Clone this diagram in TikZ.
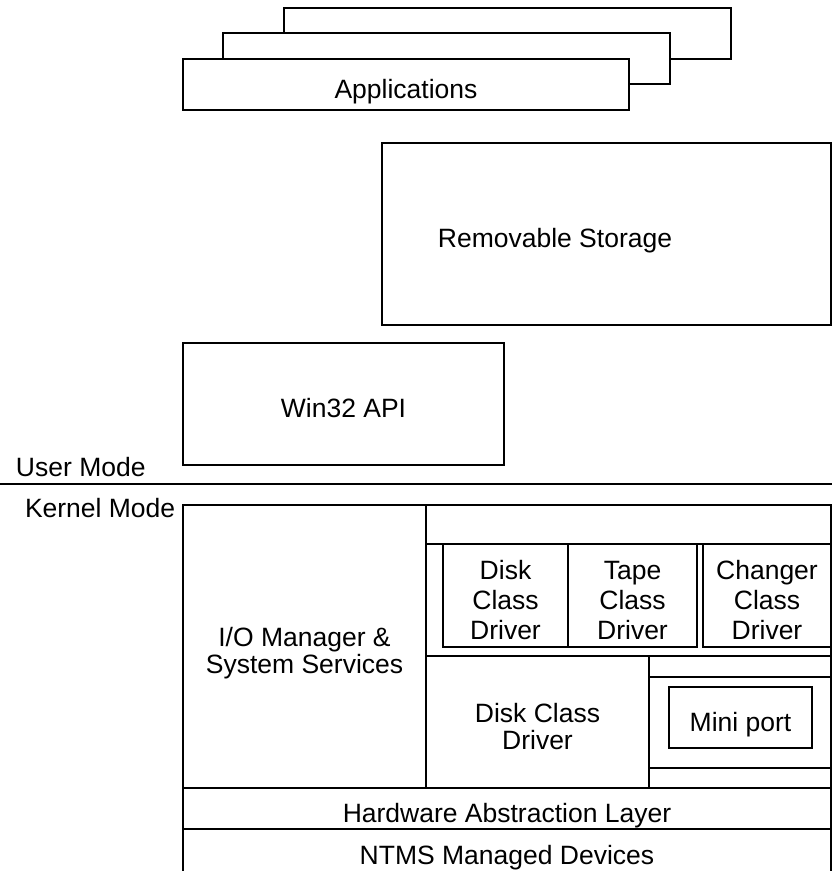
\documentclass[tikz,border=0pt]{standalone}
\usepackage{fontspec}
\setmainfont{Liberation Sans}
\newcommand\tstr{\rule{0pt}{33pt}}
\newcommand\bstr{\rule[-6pt]{0pt}{0pt}}
\begin{document}
\begin{tikzpicture}[x=1pt,y=-1pt,
  box/.style={draw, line width=1.5pt, fill=white, inner sep=0pt, outer sep=0pt, anchor=north west, align=center, font=\fontsize{26.5}{27}\selectfont},
  drv/.style={box, font=\fontsize{26.5}{30}\selectfont},
  txt/.style={inner sep=0pt, outer sep=0pt, align=center, font=\fontsize{26.5}{27}\selectfont},
  rule/.style={line width=1.5pt}]
\useasboundingbox (0,0) rectangle (832,871);
\fill[white] (0,0) rectangle (832,871);
% application stack
\node[box, minimum width=447pt, minimum height=51pt] (back) at (284,8) {};
\node[box, minimum width=447pt, minimum height=51pt] (middle) at (223,33) {};
\node[box, minimum width=446pt, minimum height=51pt] (apps) at (183,59) {\tstr Applications\bstr};
% removable storage
\node[box, minimum width=449pt, minimum height=182pt] (rs) at (382,143) {};
\node[txt, anchor=base] (rstext) at (555,247.5) {Removable Storage};
% win32
\node[box, minimum width=321pt, minimum height=122pt] (win) at (183,343) {\tstr Win32 API\bstr};
% mode labels and separator
\node[txt, anchor=base west] (user) at (16,476) {User Mode};
\coordinate (ml) at (0,484);
\coordinate (mr) at (832,484);
\draw[rule] (ml) -- (mr);
\node[txt, anchor=base west] (kern) at (25,517) {Kernel Mode};
% kernel
\node[box, minimum width=243pt, minimum height=283pt] (io) at (183,505) {\tstr I/O Manager \&\\System Services\bstr};
\node[box, minimum width=405pt, minimum height=39pt] (topstrip) at (426,505) {};
\node[box, minimum width=405pt, minimum height=112pt] (drvframe) at (426,544) {};
\node[drv, minimum width=125pt, minimum height=103pt] (diskc) at (443,544) {\tstr Disk\\Class\\Driver\bstr};
\node[drv, minimum width=129pt, minimum height=103pt] (tape) at (568,544) {\tstr Tape\\Class\\Driver\bstr};
\node[drv, minimum width=128pt, minimum height=103pt] (changer) at (703,544) {\tstr Changer\\Class\\Driver\bstr};
\node[box, minimum width=223pt, minimum height=132pt] (dcd) at (426,656) {\tstr Disk Class\\Driver\bstr};
\node[box, minimum width=182pt, minimum height=21pt] (rtop) at (649,656) {};
\node[box, minimum width=182pt, minimum height=91pt] (rmid) at (649,677) {};
\node[box, minimum width=182pt, minimum height=20pt] (rbot) at (649,768) {};
\node[box, minimum width=143pt, minimum height=61pt] (mini) at (669,687) {\tstr Mini port\bstr};
\node[box, minimum width=648pt, minimum height=41pt] (hal) at (183,788) {\tstr Hardware Abstraction Layer\bstr};
\node[box, minimum width=648pt, minimum height=43pt] (ntms) at (183,829) {\tstr NTMS Managed Devices\bstr};
\end{tikzpicture}
\end{document}
